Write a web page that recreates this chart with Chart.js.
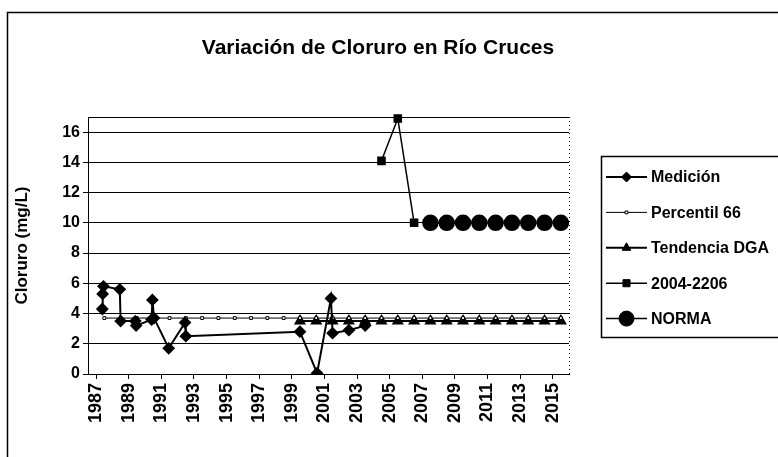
<!DOCTYPE html>
<html>
<head>
<meta charset="utf-8">
<script src="https://cdn.jsdelivr.net/npm/chart.js@4.4.1/dist/chart.umd.min.js"></script>
<style>
  html, body { margin: 0; padding: 0; background: #fff; }
  #wrap { width: 778px; height: 457px; }
</style>
</head>
<body>
<div id="wrap"><canvas id="chart" width="778" height="457"></canvas></div>
<script>
const titleText = "Variación de Cloruro en Río Cruces";
const yTitle = "Cloruro (mg/L)";
const tickYears = [1987, 1989, 1991, 1993, 1995, 1997, 1999, 2001, 2003, 2005, 2007, 2009, 2011, 2013, 2015];
const yTicks = [0, 2, 4, 6, 8, 10, 12, 14, 16];

const medicionYears = [1987.38, 1987.4, 1987.45, 1988.45, 1988.5, 1989.4, 1989.45, 1990.4, 1990.45, 1990.55, 1991.45, 1992.45, 1992.5, 1999.5, 2000.55, 2001.4, 2001.5, 2002.5, 2003.5];
const medicionValues = [4.3, 5.3, 5.8, 5.6, 3.5, 3.5, 3.2, 3.6, 4.9, 3.7, 1.7, 3.4, 2.5, 2.8, 0.05, 5.0, 2.7, 2.9, 3.2];

const percentilYears = [1987.5, 1988.5, 1989.5, 1990.5, 1991.5, 1992.5, 1993.5, 1994.5, 1995.5, 1996.5, 1997.5, 1998.5, 1999.5, 2000.5, 2001.5, 2002.5, 2003.5, 2004.5, 2005.5, 2006.5, 2007.5, 2008.5, 2009.5, 2010.5, 2011.5, 2012.5, 2013.5, 2014.5, 2015.5];
const percentilValues = [3.7, 3.7, 3.7, 3.7, 3.7, 3.7, 3.7, 3.7, 3.7, 3.7, 3.7, 3.7, 3.7, 3.7, 3.7, 3.7, 3.7, 3.7, 3.7, 3.7, 3.7, 3.7, 3.7, 3.7, 3.7, 3.7, 3.7, 3.7, 3.7];

const tendenciaYears = [1999.5, 2000.5, 2001.5, 2002.5, 2003.5, 2004.5, 2005.5, 2006.5, 2007.5, 2008.5, 2009.5, 2010.5, 2011.5, 2012.5, 2013.5, 2014.5, 2015.5];
const tendenciaValues = [3.5, 3.5, 3.5, 3.5, 3.5, 3.5, 3.5, 3.5, 3.5, 3.5, 3.5, 3.5, 3.5, 3.5, 3.5, 3.5, 3.5];

const rangoYears = [2004.5, 2005.5, 2006.5];
const rangoValues = [14.1, 16.9, 10];

const normaYears = [2007.5, 2008.5, 2009.5, 2010.5, 2011.5, 2012.5, 2013.5, 2014.5, 2015.5];
const normaValues = [10, 10, 10, 10, 10, 10, 10, 10, 10];

const FONT = '"Liberation Sans", Arial, sans-serif';

function pts(xs, ys) {
  return xs.map((x, i) => ({ x: x, y: ys[i] }));
}

const datasets = [
  {
    label: "Medición",
    data: pts(medicionYears, medicionValues),
    borderColor: "#000", backgroundColor: "#000", borderWidth: 2,
    pointStyle: "rectRot", pointRadius: 5, pointBackgroundColor: "#000", pointBorderColor: "#000"
  },
  {
    label: "Percentil 66",
    data: pts(percentilYears, percentilValues),
    borderColor: "#000", backgroundColor: "#fff", borderWidth: 1,
    pointStyle: "rect", pointRadius: 2, pointBackgroundColor: "#fff", pointBorderColor: "#000", pointBorderWidth: 1
  },
  {
    label: "Tendencia DGA",
    data: pts(tendenciaYears, tendenciaValues),
    borderColor: "#000", backgroundColor: "#000", borderWidth: 2,
    pointStyle: "triangle", pointRadius: 5, pointBackgroundColor: "#000", pointBorderColor: "#000"
  },
  {
    label: "2004-2206",
    data: pts(rangoYears, rangoValues),
    borderColor: "#000", backgroundColor: "#000", borderWidth: 1.5,
    pointStyle: "rect", pointRadius: 5, pointBackgroundColor: "#000", pointBorderColor: "#000",
    clip: false
  },
  {
    label: "NORMA",
    data: pts(normaYears, normaValues),
    borderColor: "#000", backgroundColor: "#000", borderWidth: 1.5,
    pointStyle: "circle", pointRadius: 7.5, pointBackgroundColor: "#000", pointBorderColor: "#000"
  }
];

// marco, título, bordes del área y leyenda a la derecha
const decor = {
  id: "decor",
  beforeDraw(chart) {
    const ctx = chart.ctx;
    ctx.save();
    ctx.fillStyle = "#fff";
    ctx.fillRect(0, 0, chart.width, chart.height);
    ctx.restore();
  },
  afterDraw(chart) {
    const ctx = chart.ctx;
    const a = chart.chartArea;
    ctx.save();
    ctx.strokeStyle = "#000";
    ctx.lineWidth = 1.5;
    ctx.strokeRect(7.5, 12.5, 800, 470);

    ctx.lineWidth = 1;
    ctx.beginPath();
    ctx.moveTo(a.left, a.top + 0.5);
    ctx.lineTo(a.right, a.top + 0.5);
    ctx.stroke();

    ctx.setLineDash([1, 3]);
    ctx.beginPath();
    ctx.moveTo(a.right + 0.5, a.top);
    ctx.lineTo(a.right + 0.5, a.bottom);
    ctx.stroke();
    ctx.setLineDash([]);

    ctx.fillStyle = "#000";
    ctx.font = "bold 21px " + FONT;
    ctx.textAlign = "center";
    ctx.textBaseline = "middle";
    ctx.fillText(titleText, 378, 48);

    // leyenda
    const bx = 601, by = 156;
    ctx.lineWidth = 1.5;
    ctx.strokeRect(bx + 0.5, by + 0.5, 200, 181);
    ctx.font = "bold 16px " + FONT;
    ctx.textAlign = "left";
    chart.data.datasets.forEach((ds, i) => {
      const y = 177 + i * 35.4;
      ctx.strokeStyle = ds.borderColor;
      ctx.lineWidth = ds.borderWidth;
      ctx.beginPath();
      ctx.moveTo(606, y);
      ctx.lineTo(647, y);
      ctx.stroke();
      ctx.fillStyle = ds.pointBackgroundColor;
      ctx.strokeStyle = ds.pointBorderColor;
      ctx.lineWidth = ds.pointBorderWidth || 1;
      Chart.helpers.drawPoint(ctx, {
        pointStyle: ds.pointStyle, radius: ds.pointRadius, rotation: 0,
        borderWidth: ds.pointBorderWidth || 1
      }, 626.5, y);
      ctx.fillStyle = "#000";
      ctx.fillText(ds.label, 651, y + 1);
    });
    ctx.restore();
  }
};

new Chart(document.getElementById("chart"), {
  type: "line",
  data: { datasets: datasets },
  options: {
    responsive: false,
    animation: false,
    layout: { padding: { left: 0, right: 209, top: 117, bottom: 0 } },
    plugins: {
      legend: { display: false },
      title: { display: false },
      tooltip: { enabled: false }
    },
    scales: {
      x: {
        type: "linear",
        min: 1986.5,
        max: 2016,
        afterBuildTicks: s => { s.ticks = tickYears.map(v => ({ value: v })); },
        afterFit: s => { s.height = 83; },
        ticks: {
          autoSkip: false, minRotation: 90, maxRotation: 90, padding: 4,
          color: "#000", font: { family: FONT, size: 18, weight: "bold" },
          callback: v => String(v)
        },
        grid: { drawOnChartArea: false, tickLength: 5, color: "#000" },
        border: { color: "#000", width: 1 }
      },
      y: {
        min: 0,
        max: 17,
        afterBuildTicks: s => { s.ticks = yTicks.map(v => ({ value: v })); },
        afterFit: s => { s.width = 88; },
        ticks: {
          padding: 3, color: "#000",
          font: { family: FONT, size: 16, weight: "bold" }
        },
        grid: { color: "#000", lineWidth: 1, tickLength: 5 },
        border: { color: "#000", width: 1 },
        title: {
          display: true, text: yTitle, color: "#000",
          font: { family: FONT, size: 17, weight: "bold" },
          padding: { top: 12, bottom: 0 }
        }
      }
    }
  },
  plugins: [decor]
});
</script>
</body>
</html>
